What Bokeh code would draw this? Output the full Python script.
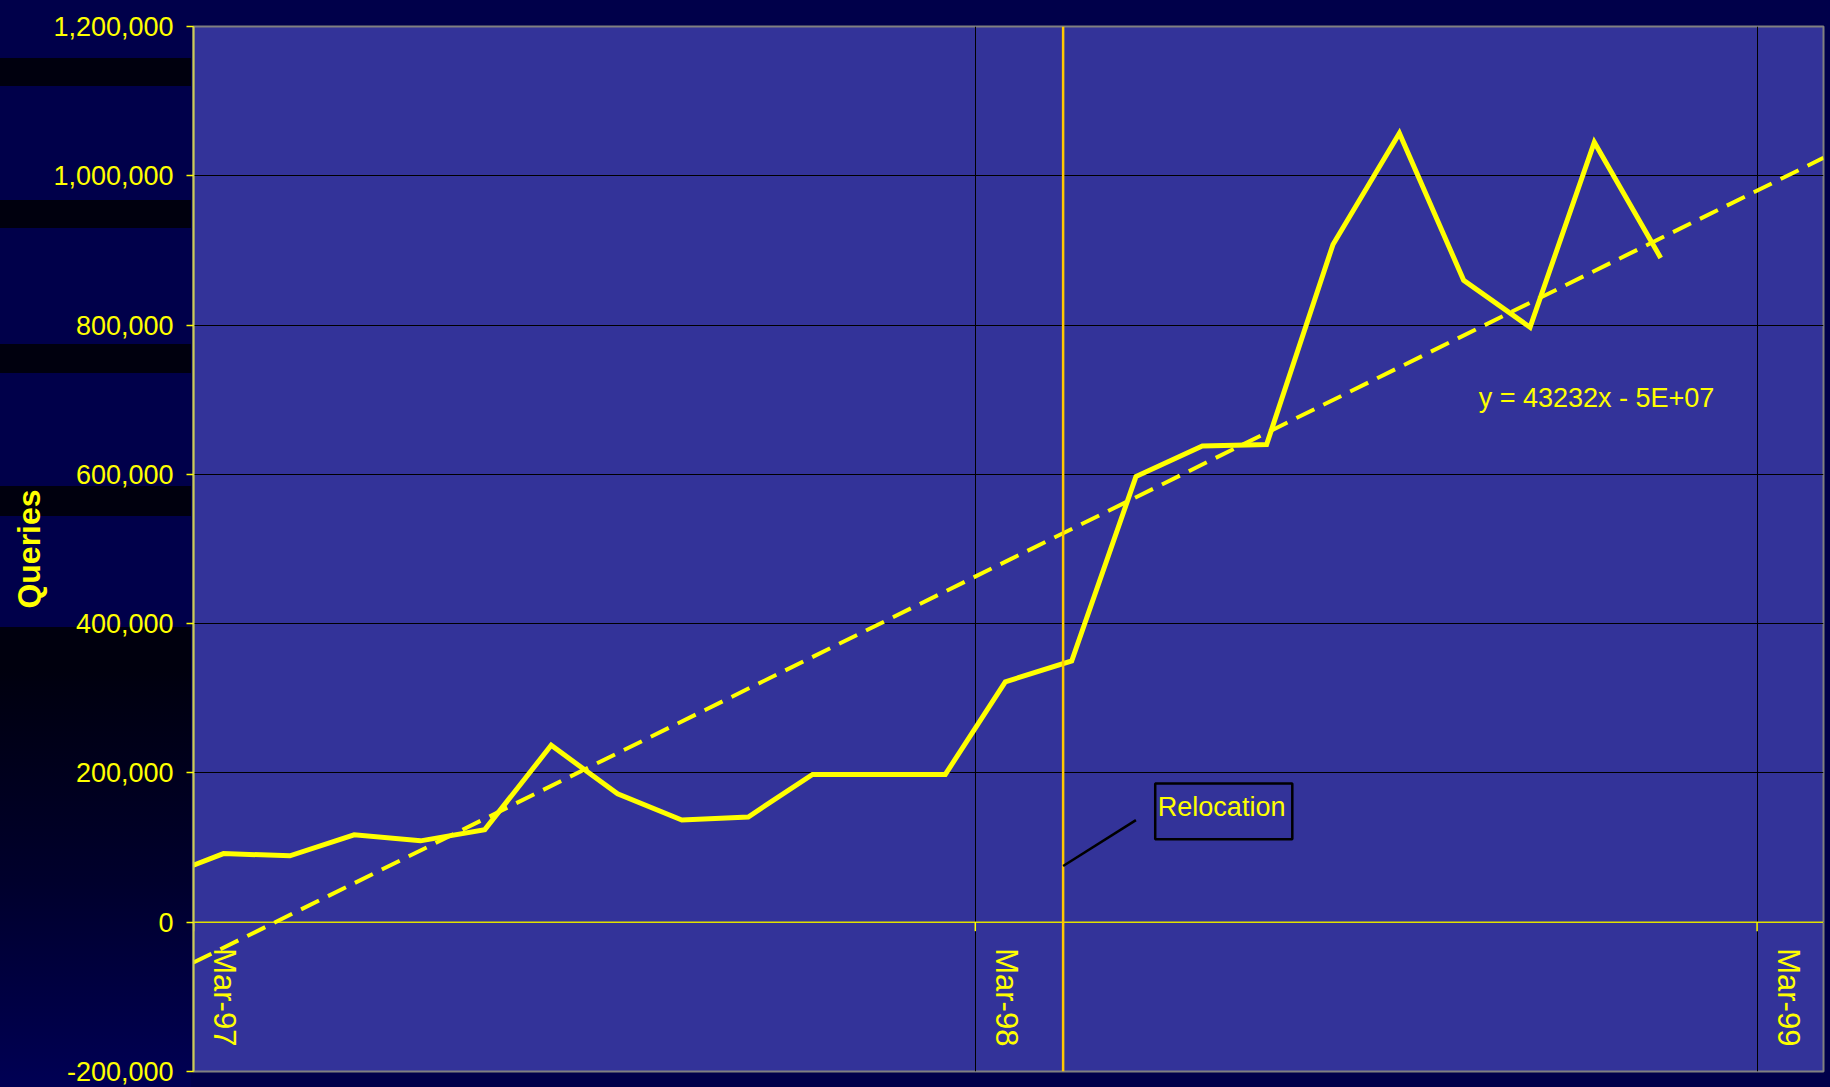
import math
import numpy as np
from bokeh.plotting import figure
from bokeh.models import (FixedTicker, NumeralTickFormatter, Span, Label,
                          BoxAnnotation, Arrow, Range1d)
from bokeh.embed import file_html
from bokeh.resources import INLINE

# ---------------- data ----------------
months = ["1997-02-15", "1997-03-15", "1997-04-15", "1997-05-15", "1997-06-15",
          "1997-07-15", "1997-08-15", "1997-09-15", "1997-10-15", "1997-11-15",
          "1997-12-15", "1998-01-15", "1998-02-15", "1998-03-15", "1998-04-15",
          "1998-05-15", "1998-06-15", "1998-07-15", "1998-08-15", "1998-09-15",
          "1998-10-15", "1998-11-15", "1998-12-15", "1999-01-15"]
queries = [61000, 92000, 89000, 117000, 109000,
           124000, 237000, 172000, 137000, 141000,
           198000, 198000, 198000, 322000, 350000,
           597000, 638000, 640000, 908000, 1057000,
           860000, 797000, 1045000, 890000]

trend_dates = ["1997-03-01", "1999-04-01"]
trend_values = [-54000, 1024000]
trend_label = "y = 43232x - 5E+07"

tick_dates = ["1997-03-01", "1998-03-01", "1999-03-01"]
tick_labels = ["Mar-97", "Mar-98", "Mar-99"]
y_ticks = [-200000, 0, 200000, 400000, 600000, 800000, 1000000, 1200000]

relocation_date = "1998-04-11"
relocation_text = "Relocation"


def ms(d):
    return float(np.datetime64(d, "ms").astype("int64"))


month_ms = [ms(d) for d in months]
trend_ms = [ms(d) for d in trend_dates]
tick_ms = [ms(d) for d in tick_dates]

YELLOW = "#FFFF00"
FONT = "Liberation Sans"

# slide background: navy with dark horizontal bands on the left (pure CSS)
band_stops = [(58, 86), (200, 228), (344, 373), (486, 516), (627, 668)]
stops = []
for top, bottom in band_stops:
    stops += [f"rgba(0,0,0,0) {top}px", f"#00000E {top}px",
              f"#00000E {bottom}px", f"rgba(0,0,0,0) {bottom}px"]
stops = stops[:-1] + ["#00000E 668px", "#00002C 880px", "#000054 1087px"]
slide_styles = {
    "background-color": "#00004A",
    "background-image": "linear-gradient(to bottom, " + ", ".join(stops) + ")",
    "background-size": "191px 100%",
    "background-repeat": "no-repeat",
}

p = figure(width=1830, height=1087, x_axis_type="datetime",
           x_range=Range1d(ms("1997-03-01"), ms("1999-04-01")),
           y_range=Range1d(-200000, 1200000),
           output_backend="svg", toolbar_location=None,
           min_border_left=193, min_border_right=7,
           min_border_top=26, min_border_bottom=16,
           background_fill_color="#333399", border_fill_color=None,
           styles=slide_styles)

p.outline_line_color = "#808080"
p.outline_line_width = 2

p.xaxis.visible = False
p.xgrid.ticker = FixedTicker(ticks=tick_ms)
p.xgrid.grid_line_color = "black"
p.xgrid.grid_line_width = 1

yax = p.yaxis[0]
yax.ticker = FixedTicker(ticks=y_ticks)
yax.formatter = NumeralTickFormatter(format="0,0")
yax.major_label_text_font = FONT
yax.major_label_text_font_size = "27px"
yax.major_label_text_color = YELLOW
yax.major_label_standoff = 13
yax.axis_line_color = "#CCCC55"
yax.axis_line_width = 2
yax.major_tick_line_color = YELLOW
yax.major_tick_line_width = 1.5
yax.major_tick_out = 7
yax.major_tick_in = 0
yax.minor_tick_line_color = None
yax.axis_label = "Queries"
yax.axis_label_text_font = FONT
yax.axis_label_text_font_style = "bold"
yax.axis_label_text_font_size = "32px"
yax.axis_label_text_color = YELLOW
yax.axis_label_standoff = 3

p.ygrid.ticker = FixedTicker(ticks=y_ticks)
p.ygrid.grid_line_color = "black"
p.ygrid.grid_line_width = 1

# zero line acting as the category axis
p.add_layout(Span(location=0, dimension="width", line_color="#E0E000",
                  line_width=1.5, level="underlay"))
p.segment(x0=tick_ms, y0=[0] * len(tick_ms), x1=tick_ms,
          y1=[-12000] * len(tick_ms), line_color=YELLOW, line_width=1.5)
for t, lab in zip(tick_ms, tick_labels):
    p.add_layout(Label(x=t, y=0, x_offset=31, y_offset=-26, text=lab,
                       angle=-math.pi / 2, text_align="left",
                       text_baseline="middle", text_font=FONT,
                       text_font_size="31px", text_color=YELLOW))

# series and trend
p.line(x=month_ms, y=queries, line_color=YELLOW, line_width=5,
       line_join="miter")
p.line(x=trend_ms, y=trend_values, line_color=YELLOW, line_width=4,
       line_dash="20 10")

p.add_layout(Label(x=ms("1998-10-22"), y=702000, text=trend_label,
                   text_align="left", text_baseline="alphabetic",
                   text_font=FONT, text_font_size="27px",
                   text_color=YELLOW))

# relocation marker
p.add_layout(Span(location=ms(relocation_date), dimension="height",
                  line_color="#FFC800", line_width=2.5))
p.add_layout(Arrow(end=None, x_start=ms(relocation_date), y_start=75400,
                   x_end=ms("1998-05-15"), y_end=136700,
                   line_color="black", line_width=2.5))
p.add_layout(BoxAnnotation(left=ms("1998-05-24"), right=ms("1998-07-27"),
                           top=186000, bottom=111000, fill_color="#333399",
                           fill_alpha=1.0, line_color="black",
                           line_width=2.5, line_alpha=1.0))
p.add_layout(Label(x=ms("1998-06-24"), y=154000, text=relocation_text,
                   text_align="center", text_baseline="alphabetic",
                   text_font=FONT, text_font_size="27px",
                   text_color=YELLOW))

open("out.html", "w").write(file_html(p, INLINE))
